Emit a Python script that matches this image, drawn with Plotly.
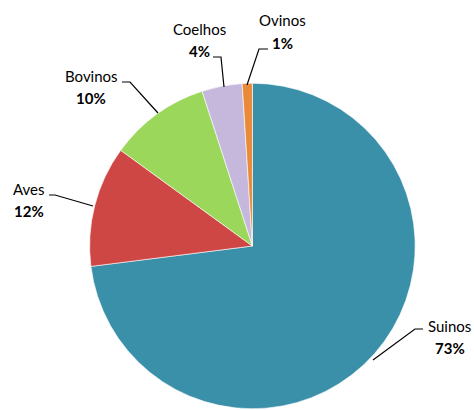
import plotly.graph_objects as go

categories = ["Suinos", "Aves", "Bovinos", "Coelhos", "Ovinos"]
values = [73, 12, 10, 4, 1]
colors = ["#3A8FA9", "#CF4745", "#9AD75A", "#C6B7DD", "#E98A3B"]

W, H = 474, 410

def px(x, y):
    return x / W, 1 - y / H

fig = go.Figure(go.Pie(
    labels=categories, values=values, sort=False, direction="clockwise",
    rotation=0, textinfo="none", hoverinfo="label+percent",
    marker=dict(colors=colors, line=dict(color="rgba(255,255,255,0.6)", width=1)),
    domain=dict(x=[0.182, 0.883], y=[0.003, 0.797]),
    showlegend=False,
))

total = sum(values)
# label text positions (pixels): name line, percent line
label_pos = {
    "Suinos": (449, 326, 450, 348),
    "Aves": (29, 189, 29, 211),
    "Bovinos": (91, 76, 91, 98),
    "Coelhos": (199, 29, 199, 51),
    "Ovinos": (282, 20, 282, 43),
}
# leader lines: (start x,y) horizontal to (mid x,y) then to slice edge
leaders = {
    "Suinos": [(423, 329), (415, 329), (373, 360)],
    "Aves": [(49, 195), (55, 195), (93, 206)],
    "Bovinos": [(122, 82), (130, 82), (158, 113)],
    "Coelhos": [(213, 57), (221, 57), (224, 87)],
    "Ovinos": [(268, 49), (259, 49), (247, 85)],
}

font_family = "Lato, 'Open Sans', sans-serif"
for cat, v in zip(categories, values):
    x1, y1, x2, y2 = label_pos[cat]
    ax, ay = px(x1, y1)
    fig.add_annotation(x=ax, y=ay, xref="paper", yref="paper", text=cat,
                       showarrow=False, xanchor="center", yanchor="middle",
                       font=dict(size=15, color="#000000", family=font_family))
    bx, by = px(x2, y2)
    fig.add_annotation(x=bx, y=by, xref="paper", yref="paper",
                       text=f"<b>{round(100 * v / total)}%</b>",
                       showarrow=False, xanchor="center", yanchor="middle",
                       font=dict(size=15, color="#000000", family=font_family))
    pts = [px(x, y) for x, y in leaders[cat]]
    path = "M " + " L ".join(f"{p[0]:.4f},{p[1]:.4f}" for p in pts)
    fig.add_shape(type="path", path=path, xref="paper", yref="paper",
                  line=dict(color="#000000", width=1.2))

fig.update_layout(
    width=W, height=H, margin=dict(l=0, r=0, t=0, b=0),
    paper_bgcolor="white", plot_bgcolor="white",
)

fig.write_html("out.html")
